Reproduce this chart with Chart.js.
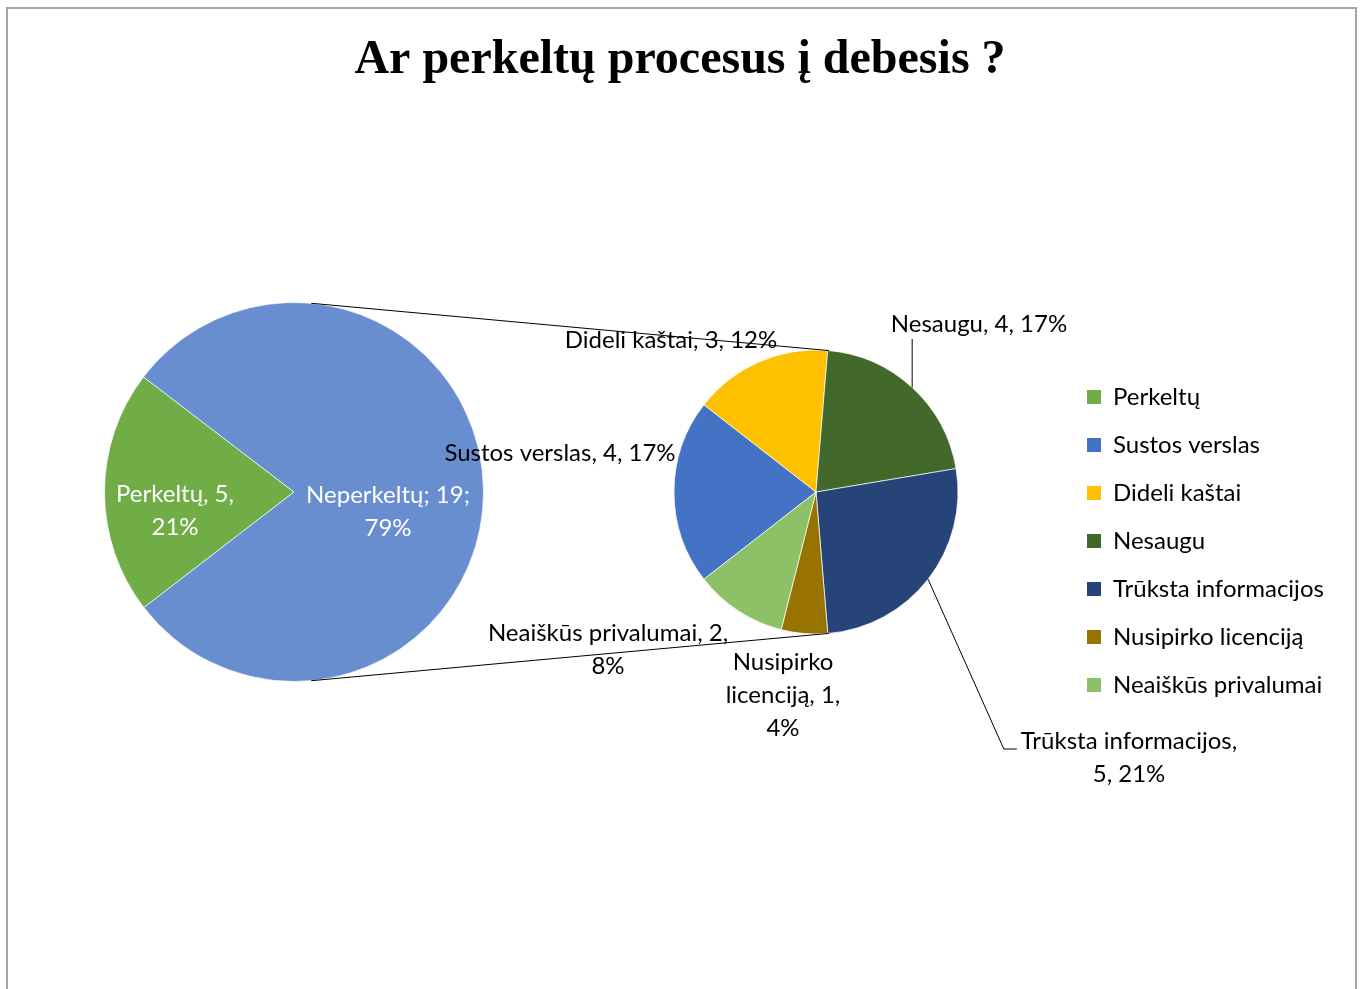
<!DOCTYPE html>
<html>
<head>
<meta charset="utf-8">
<script src="https://cdn.jsdelivr.net/npm/chart.js@4.4.1/dist/chart.umd.min.js"></script>
<style>
  html, body { margin: 0; padding: 0; background: #ffffff; }
  #wrap { position: relative; width: 1360px; height: 989px; overflow: hidden; background: #fff; }
  #frame { position: absolute; left: 6px; top: 7px; width: 1351px; height: 1010px; border: 2px solid #a6a6a6; box-sizing: border-box; }
  #titleBox { position: absolute; left: 0; top: 0; width: 1360px; height: 120px; }
  #leftBox { position: absolute; left: 104px; top: 302px; width: 380px; height: 380px; }
  #mainBox { position: absolute; left: 0; top: 0; width: 1360px; height: 989px; }
</style>
</head>
<body>
<div id="wrap">
  <div id="frame"></div>
  <div id="titleBox"><canvas id="titleChart"></canvas></div>
  <div id="leftBox"><canvas id="leftChart"></canvas></div>
  <div id="mainBox"><canvas id="mainChart"></canvas></div>
</div>
<script>
// ---------------- DATA ----------------
const chartTitle = 'Ar perkeltų procesus į debesis ?';

const leftLabels   = ['Perkeltų', 'Neperkeltų'];
const leftValues   = [5, 19];
const leftPercents = [21, 79];

const rightLabels   = ['Sustos verslas', 'Dideli kaštai', 'Nesaugu', 'Trūksta informacijos', 'Nusipirko licenciją', 'Neaiškūs privalumai'];
const rightValues   = [4, 3, 4, 5, 1, 2];
const rightPercents = [17, 12, 17, 21, 4, 8];

// ---------------- STYLE / LAYOUT ----------------
const leftColors  = ['#70ad47', '#698ed0'];
const rightColors = ['#4472c4', '#ffc000', '#43682b', '#264478', '#997300', '#8cc168'];

const fontFamily = 'Lato';
const fontSize = 24;
const labelFont = fontSize + 'px ' + fontFamily;
const labelLineHeight = 33;

// label separators, words per line, offsets of label block centre from pie centre
const leftLabelLayout = [
  { sep: ', ', lines: [2, 1], dx: -119, dy: 19 },
  { sep: '; ', lines: [2, 1], dx: 94, dy: 20 }
];
const rightLabelLayout = [
  { sep: ', ', lines: [4],       dx: -256, dy: -39 },
  { sep: ', ', lines: [4],       dx: -145, dy: -152 },
  { sep: ', ', lines: [3],       dx: 163,  dy: -168, leader: 'vertical' },
  { sep: ', ', lines: [2, 2],    dx: 313,  dy: 265.5, leader: 'elbow' },
  { sep: ', ', lines: [1, 2, 1], dx: -33,  dy: 203 },
  { sep: ', ', lines: [3, 1],    dx: -208, dy: 157.5 }
];

// legend geometry
const legendBox = 14, legendPad = 24, legendLeftTarget = 1087 - legendPad;
const legendExtra = 10; // Chart.js adds 10px to a vertical legend's width
const pieCenterX = 816, pieCenterY = 492, pieRadius = 142;

function buildLines(label, value, pct, layout) {
  const words = (label + layout.sep + value + layout.sep + pct + '%').split(' ');
  const out = [];
  let k = 0;
  layout.lines.forEach(n => {
    out.push(words.slice(k, k + n).join(' '));
    k += n;
  });
  if (k < words.length) out[out.length - 1] += ' ' + words.slice(k).join(' ');
  return out;
}

function drawBlock(ctx, lines, cx, cy, color) {
  ctx.save();
  ctx.font = labelFont;
  ctx.fillStyle = color;
  ctx.textAlign = 'center';
  ctx.textBaseline = 'middle';
  const top = cy - (lines.length - 1) * labelLineHeight / 2;
  lines.forEach((t, i) => ctx.fillText(t, cx, top + i * labelLineHeight));
  ctx.restore();
  return top;
}

// ---------------- TITLE ----------------
new Chart(document.getElementById('titleChart'), {
  type: 'pie',
  data: { labels: [], datasets: [] },
  options: {
    responsive: true, maintainAspectRatio: false, animation: false, events: [],
    plugins: {
      legend: { display: false },
      tooltip: { enabled: false },
      title: {
        display: true,
        text: chartTitle,
        color: '#000',
        font: { family: 'Liberation Serif', size: 48, weight: 'bold' },
        padding: { top: 32, bottom: 0 }
      }
    }
  }
});

// ---------------- LEFT PIE ----------------
const leftLabelPlugin = {
  id: 'leftLabels',
  afterDatasetsDraw(chart) {
    const ctx = chart.ctx;
    const c = chart.getDatasetMeta(0).data[0];
    leftLabels.forEach((l, i) => {
      const lay = leftLabelLayout[i];
      drawBlock(ctx, buildLines(l, leftValues[i], leftPercents[i], lay), c.x + lay.dx, c.y + lay.dy, '#ffffff');
    });
  }
};

const leftChart = new Chart(document.getElementById('leftChart'), {
  type: 'pie',
  data: {
    labels: leftLabels,
    datasets: [{
      data: leftValues,
      backgroundColor: leftColors,
      borderColor: 'rgba(255,255,255,0.7)',
      borderWidth: 1
    }]
  },
  options: {
    responsive: true, maintainAspectRatio: false, animation: false, events: [],
    rotation: 232.4,
    layout: { padding: 0 },
    plugins: { legend: { display: false }, title: { display: false }, tooltip: { enabled: false } }
  },
  plugins: [leftLabelPlugin]
});

// ---------------- RIGHT PIE + LEGEND ----------------
const legendItems = [leftLabels[0]].concat(rightLabels);
const legendColors = [leftColors[0]].concat(rightColors);

// compute legend width so that it begins at the desired x
const mctx = document.createElement('canvas').getContext('2d');
mctx.font = labelFont;
const maxTextW = Math.max(...legendItems.map(t => mctx.measureText(t).width));
const legendWidth = legendPad + legendBox + fontSize / 2 + maxTextW + legendExtra;
const padRight = 1360 - legendLeftTarget - legendWidth;
const padLeft = 2 * pieCenterX - legendLeftTarget;
const rows = legendItems.length * (fontSize + legendPad);
const areaBottom = 397 - fontSize / 2 + rows;          // legend aligned to end of area
const areaTop = 2 * pieCenterY - areaBottom;

const connectorPlugin = {
  id: 'connectors',
  afterDatasetsDraw(chart) {
    const ctx = chart.ctx;
    const arcs = chart.getDatasetMeta(0).data;
    const c2 = arcs[0];
    const x2 = c2.x, y2 = c2.y, r2 = c2.outerRadius;

    rightLabels.forEach((l, i) => {
      const lay = rightLabelLayout[i];
      const lines = buildLines(l, rightValues[i], rightPercents[i], lay);
      const bx = x2 + lay.dx, by = y2 + lay.dy;
      const top = drawBlock(ctx, lines, bx, by, '#000000');
      if (lay.leader) {
        const a = arcs[i];
        const mid = (a.startAngle + a.endAngle) / 2;
        const ex = a.x + a.outerRadius * Math.cos(mid);
        const ey = a.y + a.outerRadius * Math.sin(mid);
        ctx.save();
        ctx.strokeStyle = '#000';
        ctx.lineWidth = 1;
        ctx.beginPath();
        if (lay.leader === 'vertical') {
          ctx.moveTo(ex, ey);
          ctx.lineTo(ex, by + 15);
        } else {
          ctx.font = labelFont;
          const w = ctx.measureText(lines[0]).width;
          const left = bx - w / 2;
          ctx.moveTo(ex, ey);
          ctx.lineTo(left - 17, top + 8);
          ctx.lineTo(left - 4, top + 8);
        }
        ctx.stroke();
        ctx.restore();
      }
    });

    // tangent connector lines between the two pies
    const lc = leftChart.getDatasetMeta(0).data[0];
    const lr = leftChart.canvas.getBoundingClientRect();
    const mr = chart.canvas.getBoundingClientRect();
    const x1 = lc.x + lr.left - mr.left, y1 = lc.y + lr.top - mr.top, r1 = lc.outerRadius;
    const d = Math.hypot(x2 - x1, y2 - y1);
    const base = Math.atan2(y2 - y1, x2 - x1);
    const alpha = Math.acos((r1 - r2) / d);
    ctx.save();
    ctx.strokeStyle = '#000';
    ctx.lineWidth = 1;
    [-1, 1].forEach(s => {
      const ang = base + s * alpha;
      ctx.beginPath();
      ctx.moveTo(x1 + r1 * Math.cos(ang), y1 + r1 * Math.sin(ang));
      ctx.lineTo(x2 + r2 * Math.cos(ang), y2 + r2 * Math.sin(ang));
      ctx.stroke();
    });
    ctx.restore();
  }
};

new Chart(document.getElementById('mainChart'), {
  type: 'pie',
  data: {
    labels: rightLabels,
    datasets: [{
      data: rightValues,
      backgroundColor: rightColors,
      borderColor: 'rgba(255,255,255,0.7)',
      borderWidth: 1
    }]
  },
  options: {
    responsive: true, maintainAspectRatio: false, animation: false, events: [],
    rotation: 232.1,
    radius: pieRadius,
    layout: { padding: { left: padLeft, right: padRight, top: areaTop, bottom: 989 - areaBottom } },
    plugins: {
      title: { display: false },
      legend: {
        display: true,
        position: 'right',
        align: 'end',
        onClick: () => {},
        labels: {
          color: '#000',
          font: { family: fontFamily, size: fontSize },
          boxWidth: legendBox,
          boxHeight: legendBox,
          padding: legendPad,
          generateLabels: () => legendItems.map((t, i) => ({
            text: t, fillStyle: legendColors[i], strokeStyle: legendColors[i], lineWidth: 0, hidden: false, index: i
          }))
        }
      },
      tooltip: { enabled: false }
    }
  },
  plugins: [connectorPlugin]
});
</script>
</body>
</html>
